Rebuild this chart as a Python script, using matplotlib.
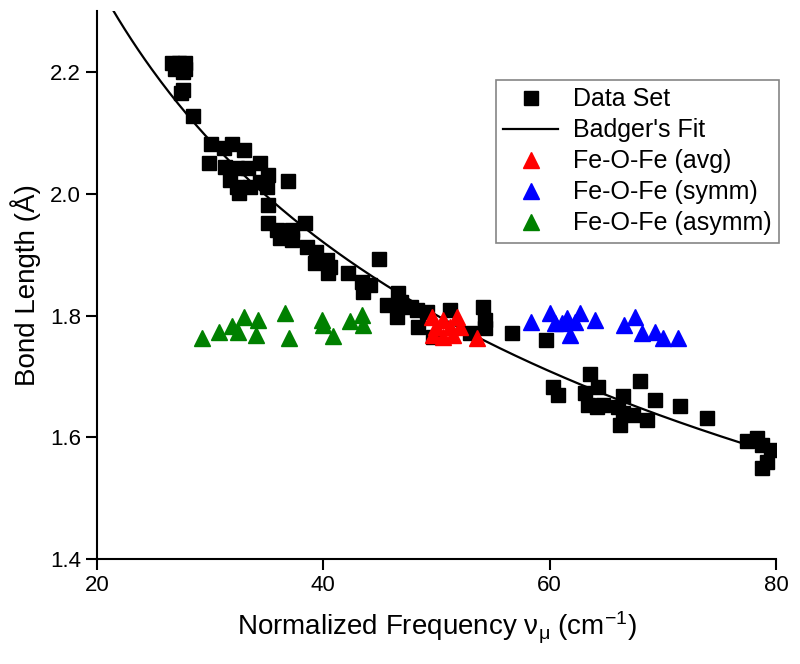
import numpy as np
import matplotlib
matplotlib.use("Agg")
import matplotlib.pyplot as plt

plt.rcParams["font.family"] = ["Liberation Sans", "DejaVu Sans"]
plt.rcParams["mathtext.fontset"] = "custom"
plt.rcParams["mathtext.rm"] = "Liberation Sans"
plt.rcParams["mathtext.it"] = "Liberation Sans"

# data set (black squares)
data_x = [26.6, 27.3, 27.8, 26.9, 27.6, 27.8, 27.6, 27.4, 28.5,
          30.1, 31.2, 31.9, 33.0, 29.9, 31.3, 32.4, 33.4, 34.4, 31.8,
          32.4, 32.6, 33.5, 34.4, 35.1, 35.0, 36.9, 35.1, 35.1, 35.9,
          36.2, 37.2, 37.2, 38.4, 38.6, 39.4, 39.3, 40.3, 40.6, 40.4,
          42.2, 43.4, 44.1, 43.5, 44.9, 46.6, 45.6, 46.9, 46.5, 47.8,
          48.3, 49.2, 48.4, 49.7, 51.2, 54.1, 54.3, 54.3, 53.0, 56.7,
          59.7, 63.6, 60.3, 60.7, 63.1, 64.3, 68.0, 63.4, 64.2, 64.7,
          66.5, 66.0, 66.5, 67.4, 66.2, 68.6, 69.3, 71.5, 73.9, 77.4,
          78.3, 78.8, 79.6, 79.2, 78.8]
data_y = [2.215, 2.215, 2.215, 2.205, 2.200, 2.205, 2.170, 2.165, 2.128,
          2.082, 2.075, 2.082, 2.072, 2.051, 2.044, 2.042, 2.042, 2.051, 2.023,
          2.011, 2.001, 2.011, 2.019, 2.031, 2.011, 2.021, 1.982, 1.952, 1.940,
          1.927, 1.940, 1.924, 1.952, 1.913, 1.904, 1.886, 1.891, 1.880, 1.870,
          1.870, 1.855, 1.850, 1.839, 1.893, 1.837, 1.817, 1.822, 1.798, 1.814,
          1.809, 1.806, 1.781, 1.765, 1.809, 1.814, 1.793, 1.779, 1.771, 1.771,
          1.760, 1.704, 1.683, 1.669, 1.673, 1.683, 1.692, 1.653, 1.650, 1.653,
          1.668, 1.650, 1.640, 1.637, 1.620, 1.628, 1.661, 1.651, 1.632, 1.594,
          1.599, 1.587, 1.579, 1.559, 1.549]

avg_x = [49.6, 50.0, 50.6, 51.2, 51.8, 52.1, 49.7, 50.6, 51.5, 53.6]
avg_y = [1.798, 1.781, 1.793, 1.781, 1.798, 1.781, 1.768, 1.765, 1.768, 1.763]

symm_x = [58.4, 60.0, 60.5, 61.1, 61.5, 61.8, 62.2, 62.7, 64.0, 66.6,
          67.5, 68.2, 69.3, 70.0, 71.3]
symm_y = [1.789, 1.804, 1.788, 1.788, 1.796, 1.768, 1.789, 1.804, 1.793, 1.784,
          1.797, 1.771, 1.773, 1.763, 1.763]

asymm_x = [29.3, 30.8, 31.9, 32.5, 33.0, 34.2, 34.1, 36.6, 37.0, 39.9,
           40.0, 40.9, 42.4, 43.4, 43.5]
asymm_y = [1.763, 1.773, 1.783, 1.773, 1.798, 1.793, 1.768, 1.804, 1.763, 1.793,
           1.784, 1.766, 1.791, 1.801, 1.784]

# Badger's fit: r = a + b * nu^(-p)
fit_a, fit_b, fit_p = 0.069, 5.6, 0.3

fig = plt.figure(figsize=(8.0, 6.64), dpi=100)
ax = fig.add_axes([0.121, 0.158, 0.849, 0.825])

nu = np.linspace(20.5, 79.5, 300)
ax.plot(nu, fit_a + fit_b * nu ** (-fit_p), color="black", lw=1.6,
        label="Badger's Fit", zorder=2)
ax.plot(data_x, data_y, "s", color="black", ms=10.5, ls="none",
        label="Data Set", zorder=3)
ax.plot(avg_x, avg_y, "^", color="red", ms=11, ls="none",
        label="Fe-O-Fe (avg)", zorder=4)
ax.plot(symm_x, symm_y, "^", color="blue", ms=11, ls="none",
        label="Fe-O-Fe (symm)", zorder=4)
ax.plot(asymm_x, asymm_y, "^", color="green", ms=11, ls="none",
        label="Fe-O-Fe (asymm)", zorder=4)

ax.set_xlim(20, 80)
ax.set_ylim(1.4, 2.3)
ax.set_xticks([20, 40, 60, 80])
ax.set_yticks([1.4, 1.6, 1.8, 2.0, 2.2])
ax.yaxis.set_major_formatter(matplotlib.ticker.FormatStrFormatter("%.1f"))
for s in ("top", "right"):
    ax.spines[s].set_visible(False)
for s in ("left", "bottom"):
    ax.spines[s].set_linewidth(1.5)
ax.tick_params(direction="out", length=8, width=1.5, labelsize=16)

ax.set_xlabel("Normalized Frequency ν$_{\\mathregular{μ}}$ (cm$^{\\mathregular{-1}}$)",
              fontsize=20, labelpad=10)
ax.set_ylabel("Bond Length (Å)", fontsize=20, labelpad=6)

h, l = ax.get_legend_handles_labels()
order = [1, 0, 2, 3, 4]
leg = ax.legend([h[i] for i in order], [l[i] for i in order],
                loc="upper right", bbox_to_anchor=(1.005, 0.875),
                fontsize=18, frameon=True, fancybox=False, numpoints=1,
                handlelength=2.2, handletextpad=0.6, borderpad=0.3,
                labelspacing=0.28, borderaxespad=0)
leg.get_frame().set_edgecolor("#666666")
leg.get_frame().set_linewidth(1.2)

fig.savefig("out.png", dpi=100)
